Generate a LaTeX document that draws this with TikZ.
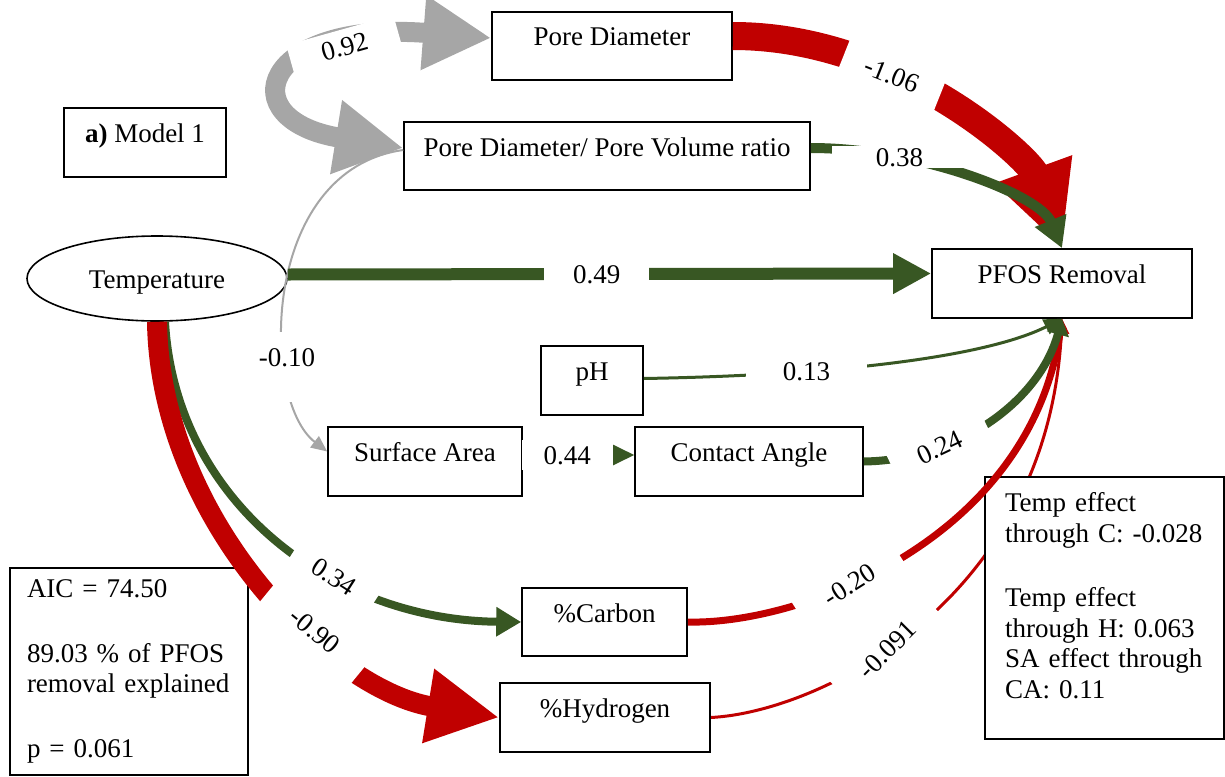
\documentclass[tikz,border=0pt]{standalone}
\usepackage{fontspec}
\setmainfont{Liberation Serif}
\usetikzlibrary{arrows.meta,shapes.geometric,backgrounds}
\definecolor{cred}{RGB}{192,0,0}
\definecolor{cgreen}{RGB}{56,87,35}
\definecolor{cgrey}{RGB}{166,166,166}
\begin{document}
\begin{tikzpicture}[x=0.5pt,y=-0.5pt,
  font=\fontsize{13.5}{15.3}\selectfont,
  box/.style={draw,line width=0.8pt,fill=white,inner sep=0pt,text height=9pt,text depth=9pt},
  txtbox/.style={draw,line width=0.8pt,fill=white,align=left,inner ysep=0pt},
  lab/.style={fill=white,text=black,inner ysep=3pt,text height=9pt,text depth=0pt}]
\useasboundingbox (0,0) rectangle (1225,776);

% nodes
\node[box,minimum width=81pt,minimum height=34.5pt] (model) at (145,142.5) {\textbf{a)} Model 1};
\node[draw,line width=0.8pt,fill=white,ellipse,inner sep=0pt,minimum width=130pt,minimum height=42.5pt,text height=11pt,text depth=1pt] (temp) at (157,278.5) {Temperature};
\node[box,minimum width=120pt,minimum height=34pt] (pd) at (612,46) {Pore Diameter};
\node[box,minimum width=203pt,minimum height=34pt] (pdpv) at (607,156) {Pore Diameter/ Pore Volume ratio};
\node[box,minimum width=130pt,minimum height=34.5pt] (pfos) at (1062,283.5) {PFOS Removal};
\node[box,minimum width=51pt,minimum height=34.5pt] (ph) at (592,380.5) {pH};
\node[box,minimum width=97pt,minimum height=34.5pt] (sa) at (425,461.5) {Surface Area};
\node[box,minimum width=114pt,minimum height=34.5pt] (ca) at (749,461.5) {Contact Angle};
\node[box,minimum width=82.5pt,minimum height=34pt] (carbon) at (604.5,622) {\%Carbon};
\node[box,minimum width=105pt,minimum height=34.5pt] (hyd) at (605,717.5) {\%Hydrogen};
\node[txtbox,text width=102pt,inner xsep=8.5pt,minimum height=103.5pt] (aic) at (129,671.5)
  {AIC = 74.50\\[17pt]89.03 \% of PFOS\\removal explained\\[17pt]p = 0.061};
\node[txtbox,text width=99.5pt,inner xsep=10pt,minimum height=131pt] (eff) at (1104.5,608)
  {Temp effect\\through C: -0.028\\[17pt]Temp effect\\through H: 0.063\\SA effect through\\CA: 0.11\\[-2.8pt]\mbox{}};

% connector hidden behind the effect box
\begin{pgfonlayer}{background}
\draw[cred,line width=1.5pt,-{Triangle[length=5pt,width=5pt]}] (hyd.east) .. controls (820,712) and (1050,600) .. (pfos.south)
  node[lab,sloped,rotate=10,pos=0.42,inner xsep=14pt,inner ysep=6pt] {-0.091};
\end{pgfonlayer}

% grey connectors
\draw[cgrey,line width=1pt,-{Triangle[length=8pt,width=7pt]}] ([yshift=3pt]pdpv.west) .. controls (260,170) and (260,400) .. ([yshift=5pt]sa.west)
  node[lab,pos=0.7,inner xsep=2pt,inner ysep=8pt,text depth=10pt] {-0.10};
\draw[cgrey,line width=10pt,{Triangle[length=34pt,width=35pt]}-{Triangle[length=34pt,width=35pt]}] ([yshift=4pt]pdpv.west) .. controls (230,120) and (260,20) .. ([yshift=4pt]pd.west)
  node[lab,sloped,pos=0.72,inner xsep=16pt,inner ysep=4pt] {0.92};

% to PFOS removal
\draw[cgreen,line width=6pt,-{Triangle[length=19pt,width=19pt]}] ([yshift=2pt]temp.east) -- ([yshift=5pt]pfos.west)
  node[lab,pos=0.48,inner xsep=14.4pt] {0.49};
\draw[cred,line width=14pt,-{Triangle[length=42pt,width=38pt]}] ([yshift=5pt]pd.east) .. controls (900,36) and (1030,160) .. (pfos.north)
  node[lab,sloped,rotate=5,pos=0.35,inner xsep=12pt,inner ysep=5pt] {-1.06};
\draw[cgreen,line width=5pt,-{Triangle[length=15pt,width=16pt]}] ([yshift=4pt]pdpv.east) .. controls (920,148) and (1040,195) .. (pfos.north)
  node[lab,pos=0.27,inner xsep=22pt,inner ysep=1pt] {0.38};
\draw[cred,line width=3.5pt,-{Triangle[length=7pt,width=9pt]}] (carbon.east) .. controls (800,625) and (1030,540) .. (pfos.south)
  node[lab,sloped,rotate=8,pos=0.38,inner xsep=15pt,inner ysep=5pt] {-0.20};
\draw[cgreen,line width=1.5pt,-{Triangle[length=9pt,width=8pt]}] ([yshift=1pt]ph.east) .. controls (850,375) and (990,355) .. (pfos.south)
  node[lab,pos=0.29,inner xsep=18.6pt] {0.13};
\draw[cgreen,line width=1pt,-{Triangle[length=11pt,width=10.5pt]}] ([yshift=3.25pt]sa.east) -- ([yshift=3.25pt]ca.west)
  node[lab,pos=0.4,inner xsep=11pt] {0.44};
\draw[cgreen,line width=4pt,-{Triangle[length=8pt,width=11pt]}] (ca.east) .. controls (960,460) and (1040,400) .. (pfos.south)
  node[lab,sloped,rotate=5,pos=0.28,inner xsep=14pt,inner ysep=4pt] {0.24};

% from temperature
\draw[cgreen,line width=4pt,-{Triangle[length=12.5pt,width=14pt]}] ([xshift=4pt]temp.south) .. controls (175,500) and (330,620) .. (carbon.west)
  node[lab,sloped,rotate=-5,pos=0.64,inner xsep=12pt,inner ysep=4pt] {0.34};
\draw[cred,line width=10pt,-{Triangle[length=36pt,width=35pt]}] (temp.south) .. controls (160,520) and (330,690) .. (hyd.west)
  node[lab,sloped,pos=0.62,inner xsep=16.5pt,inner ysep=6pt] {-0.90};
\end{tikzpicture}
\end{document}
